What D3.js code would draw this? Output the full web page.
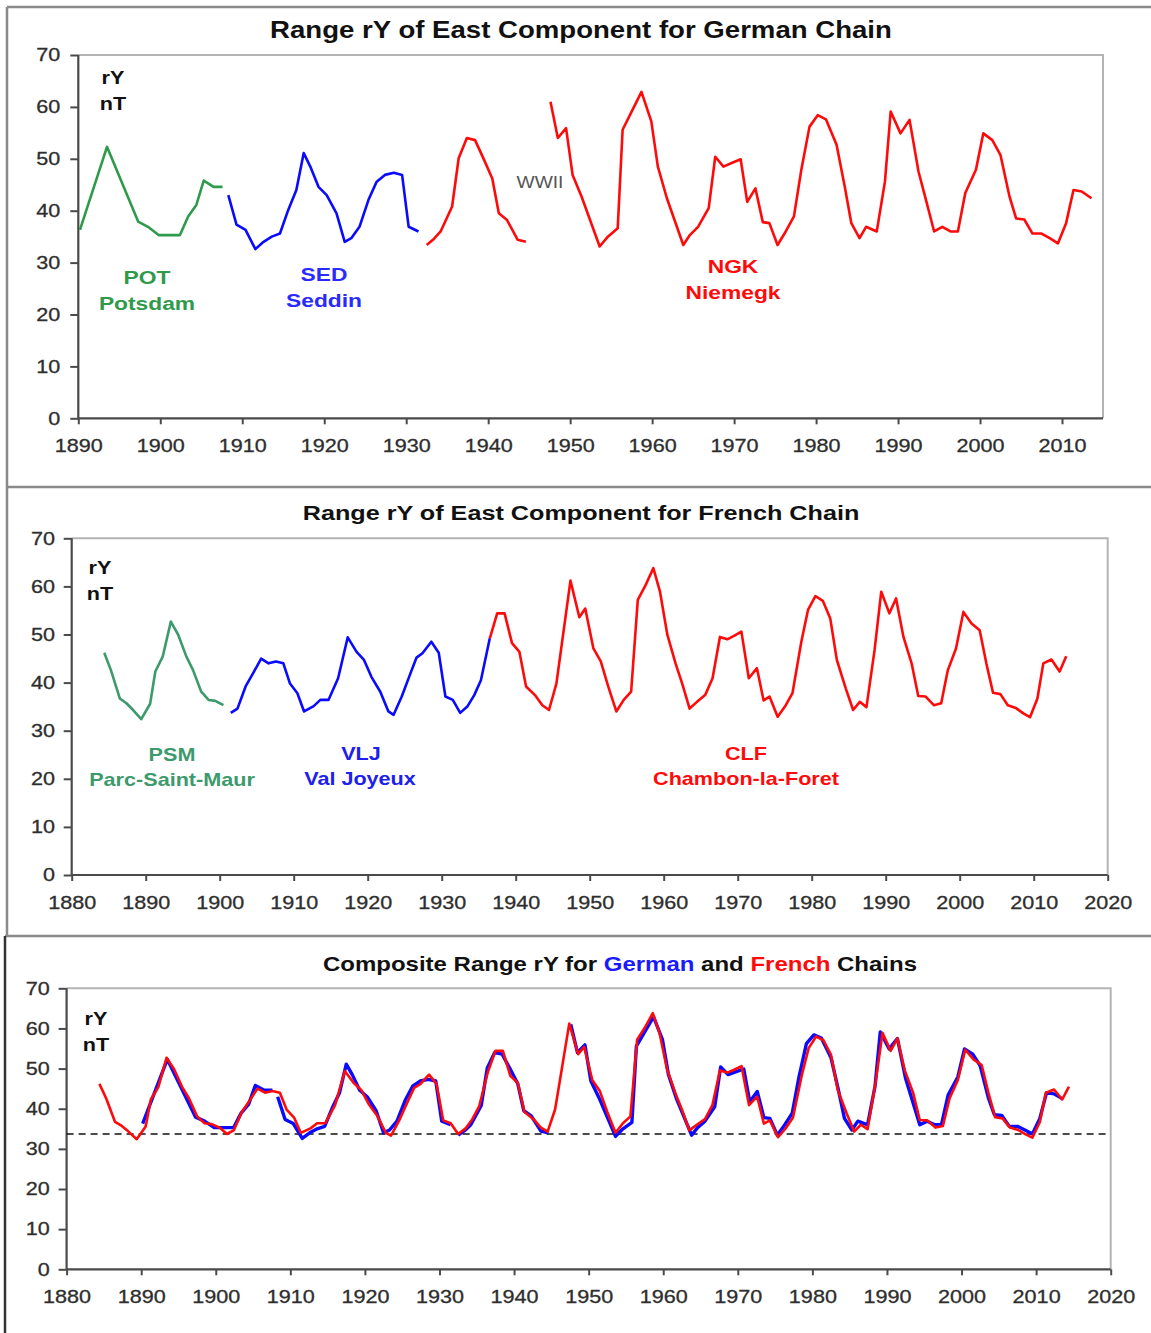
<!DOCTYPE html>
<html>
<head>
<meta charset="utf-8">
<script src="https://cdn.jsdelivr.net/npm/d3@7"></script>
<style>
  body { margin: 0; background: #fff; }
  svg { display: block; font-family: "Liberation Sans", Arial, sans-serif; }
</style>
</head>
<body>
<script>
// ---- data: [year, rY nT] ----
const POT = [[1890.2,36.3],[1893.5,52.3],[1897.3,37.9],[1898.5,36.9],[1899.8,35.3],[1902.4,35.3],[1903.4,38.9],
  [1904.4,41.1],[1905.3,45.8],[1906.5,44.6],[1907.6,44.6]];
const SED = [[1908.3,43.0],[1909.3,37.3],[1910.4,36.3],[1911.6,32.6],[1912.6,34.0],[1913.6,35.0],[1914.6,35.6],
  [1915.6,40.1],[1916.6,44.0],[1917.5,51.1],[1918.3,48.5],[1919.3,44.6],[1920.3,43.0],[1921.5,39.5],[1922.5,34.0],
  [1923.3,34.7],[1924.3,36.9],[1925.4,42.1],[1926.4,45.6],[1927.4,46.9],[1928.5,47.3],[1929.5,46.9],[1930.3,36.9],
  [1931.5,36.0]];
const NGK_PRE = [[1932.5,33.4],[1933.4,34.6],[1934.2,36.0],[1935.6,40.8],[1936.4,50.1],[1937.4,54.0],[1938.4,53.6],
  [1939.5,49.8],[1940.5,46.2],[1941.3,39.5],[1942.3,38.2],[1943.6,34.4],[1944.6,34.0]];
const NGK_POST = [[1947.6,61.0],[1948.5,54.0],[1949.5,55.9],[1950.3,46.9],[1951.4,42.7],[1953.6,33.1],[1954.6,35.0],
  [1955.8,36.6],[1956.4,55.6],[1957.5,59.1],[1958.7,62.9],[1959.9,57.2],[1960.7,48.5],[1961.8,42.4],[1963.8,33.4],
  [1964.6,35.3],[1965.6,36.9],[1966.9,40.5],[1967.7,50.4],[1968.7,48.5],[1969.7,49.2],[1970.8,49.9],[1971.6,41.7],
  [1972.6,44.3],[1973.5,37.8],[1974.3,37.6],[1975.3,33.4],[1976.3,36.0],[1977.3,38.9],[1978.2,47.9],[1979.2,56.2],
  [1980.2,58.4],[1981.2,57.6],[1982.5,52.7],[1983.5,44.6],[1984.3,37.6],[1985.3,34.7],[1986.1,36.9],[1987.4,36.0],
  [1988.4,45.6],[1989.1,59.1],[1990.3,54.9],[1991.4,57.5],[1992.5,47.5],[1993.3,42.7],[1994.4,36.0],[1995.4,36.9],
  [1996.4,36.0],[1997.3,36.0],[1998.2,43.4],[1999.5,47.9],[2000.4,54.9],[2001.5,53.6],[2002.5,50.7],[2003.6,42.7],
  [2004.4,38.5],[2005.4,38.3],[2006.4,35.6],[2007.5,35.6],[2008.5,34.7],[2009.5,33.7],[2010.5,37.6],[2011.4,44.0],
  [2012.4,43.7],[2013.6,42.4]];

const PSM = [[1884.4,46.2],[1885.3,42.6],[1886.5,36.7],[1887.4,35.7],[1888.3,34.3],[1889.4,32.4],[1890.6,35.6],
  [1891.3,42.3],[1892.3,45.4],[1893.4,52.7],[1894.4,49.9],[1895.5,45.4],[1896.4,42.6],[1897.5,38.1],[1898.5,36.4],
  [1899.4,36.2],[1900.5,35.3]];
const VLJ = [[1901.5,33.7],[1902.4,34.6],[1903.5,39.2],[1904.5,41.9],[1905.6,45.0],[1906.6,44.0],[1907.6,44.4],
  [1908.6,44.0],[1909.5,39.8],[1910.5,37.8],[1911.4,34.0],[1912.7,35.1],[1913.6,36.4],[1914.7,36.4],[1916.0,40.9],
  [1917.3,49.4],[1918.5,46.4],[1919.5,44.7],[1920.5,41.2],[1921.7,38.1],[1922.8,34.0],[1923.5,33.3],[1924.6,37.1],
  [1925.7,41.6],[1926.6,45.2],[1927.4,46.1],[1928.6,48.5],[1929.6,46.2],[1930.5,37.1],[1931.5,36.4],[1932.5,33.7],
  [1933.5,35.1],[1934.4,37.4],[1935.3,40.5],[1936.5,49.2]];
const CLF = [[1936.5,49.2],[1937.5,54.4],[1938.5,54.4],[1939.5,48.2],[1940.5,46.4],[1941.4,39.2],[1942.6,37.4],
  [1943.6,35.3],[1944.5,34.3],[1945.5,39.8],[1946.4,49.9],[1947.4,61.2],[1948.6,53.6],[1949.4,55.4],[1950.5,47.1],
  [1951.5,44.4],[1952.5,39.2],[1953.6,34.0],[1954.6,36.4],[1955.6,38.1],[1956.5,57.2],[1957.5,60.1],[1958.6,63.8],
  [1959.5,58.9],[1960.5,49.9],[1961.6,44.0],[1962.5,39.8],[1963.5,34.6],[1964.5,36.0],[1965.6,37.4],[1966.6,40.9],
  [1967.6,49.5],[1968.6,49.0],[1969.5,49.7],[1970.5,50.6],[1971.5,40.9],[1972.6,43.0],[1973.5,36.3],[1974.3,37.1],
  [1975.4,32.9],[1976.5,35.3],[1977.4,37.8],[1978.6,48.5],[1979.5,55.1],[1980.5,58.0],[1981.5,57.0],[1982.5,53.4],
  [1983.4,44.7],[1984.6,38.8],[1985.6,34.3],[1986.5,36.0],[1987.4,34.9],[1988.5,46.8],[1989.4,58.9],[1990.5,54.4],
  [1991.4,57.5],[1992.4,49.5],[1993.5,44.0],[1994.4,37.2],[1995.4,37.1],[1996.5,35.3],[1997.5,35.7],[1998.4,42.6],
  [1999.5,47.1],[2000.5,54.7],[2001.6,52.3],[2002.7,50.9],[2003.6,44.0],[2004.5,37.9],[2005.5,37.6],[2006.5,35.3],
  [2007.6,34.7],[2008.6,33.6],[2009.5,32.8],[2010.5,36.7],[2011.3,44.0],[2012.4,44.8],[2013.5,42.3],[2014.4,45.5]];

const baseLevel = 33.7; // dashed line, composite panel

const yTicks = [0, 10, 20, 30, 40, 50, 60, 70];
const xTicksGerman = [1890, 1900, 1910, 1920, 1930, 1940, 1950, 1960, 1970, 1980, 1990, 2000, 2010];
const xTicksFrench = [1880, 1890, 1900, 1910, 1920, 1930, 1940, 1950, 1960, 1970, 1980, 1990, 2000, 2010, 2020];

const GREEN = '#2f9a4c', GREEN2 = '#3c9a6c', BLUE = '#0a0aff', RED = '#ff0a0a';
const SX = 1.2; // the picture's text is stretched horizontally

const svg = d3.select('body').append('svg').attr('width', 1151).attr('height', 1333);

// panel frames
const frame = svg.append('g').attr('stroke', '#8a8a8a').attr('stroke-width', 2.5);
frame.append('line').attr('x1', 7).attr('x2', 1151).attr('y1', 7).attr('y2', 7);
frame.append('line').attr('x1', 7).attr('x2', 7).attr('y1', 7).attr('y2', 936);
frame.append('line').attr('x1', 7).attr('x2', 1151).attr('y1', 487).attr('y2', 487);
frame.append('line').attr('x1', 5).attr('x2', 1151).attr('y1', 936).attr('y2', 936);
frame.append('line').attr('x1', 5).attr('x2', 5).attr('y1', 936).attr('y2', 1333).attr('stroke', '#333');

function txt(g, x, y, s, opts = {}) {
    return g.append('text')
        .attr('transform', `translate(${x},${y}) scale(${SX},1)`)
        .attr('text-anchor', opts.anchor || 'middle')
        .style('font-size', (opts.size || 18) + 'px')
        .style('font-weight', opts.bold === false ? 'normal' : 'bold')
        .attr('fill', opts.color || '#111')
        .text(s);
}

function drawPanel(p) {
    const g = svg.append('g');
    const x = d3.scaleLinear().domain(p.xDomain).range([p.left, p.right]);
    const y = d3.scaleLinear().domain([0, 70]).range([p.bottom, p.top]);

    // light frame on top and right
    g.append('path')
        .attr('d', `M${p.left},${p.top}H${p.right}V${p.bottom}`)
        .attr('fill', 'none').attr('stroke', '#b4b4b4').attr('stroke-width', 2);

    const yAxis = g.append('g').attr('transform', `translate(${p.left},0)`)
        .call(d3.axisLeft(y).tickValues(yTicks).tickSize(8).tickPadding(p.yPad).tickSizeOuter(0));
    const xAxis = g.append('g').attr('transform', `translate(0,${p.bottom})`)
        .call(d3.axisBottom(x).tickValues(p.xTicks).tickFormat(d3.format('d')).tickSize(6).tickPadding(15).tickSizeOuter(0));
    [yAxis, xAxis].forEach(a => {
        a.select('.domain').attr('stroke', '#4a4a4a').attr('stroke-width', 2.2);
        a.selectAll('.tick line').attr('stroke', '#4a4a4a').attr('stroke-width', 2);
        a.selectAll('.tick text')
            .attr('transform', `scale(${SX},1)`)
            .style('font-size', '18px')
            .attr('fill', '#2e2e2e')
            .attr('stroke', '#2e2e2e').attr('stroke-width', 0.3);
    });
    yAxis.select('.domain').attr('d', `M0,${p.bottom}V${p.top}`);
    xAxis.select('.domain').attr('d', `M${p.left},0H${p.right}`);

    const line = d3.line().x(d => x(d[0])).y(d => y(d[1]));
    if (p.dashed !== undefined) {
        g.append('line')
            .attr('x1', p.left).attr('x2', p.right)
            .attr('y1', y(p.dashed)).attr('y2', y(p.dashed))
            .attr('stroke', '#111').attr('stroke-width', 1.6).attr('stroke-dasharray', '7,5');
    }
    p.series.forEach(s => {
        g.append('path').datum(s.data)
            .attr('d', line)
            .attr('fill', 'none')
            .attr('stroke', s.color)
            .attr('stroke-width', s.width || 2.6)
            .attr('stroke-linejoin', 'round');
    });

    txt(g, p.unitX, p.unitY, 'rY');
    txt(g, p.unitX, p.unitY + 26, 'nT');
    (p.labels || []).forEach(l => txt(g, l.x, l.y, l.text, l));
    return g;
}

// ---- German chain ----
const g1 = drawPanel({
    left: 78.3, right: 1103, top: 55, bottom: 418.3, xDomain: [1890, 2015], xTicks: xTicksGerman, yPad: 7,
    series: [
        { data: POT, color: GREEN }, { data: SED, color: BLUE },
        { data: NGK_PRE, color: RED }, { data: NGK_POST, color: RED }
    ],
    unitX: 113, unitY: 84,
    labels: [
        { x: 147, y: 284, text: 'POT', color: GREEN, size: 19 },
        { x: 147, y: 310, text: 'Potsdam', color: GREEN, size: 19 },
        { x: 324, y: 281, text: 'SED', color: '#2a2aff', size: 19 },
        { x: 324, y: 307, text: 'Seddin', color: '#2a2aff', size: 19 },
        { x: 733, y: 273, text: 'NGK', color: RED, size: 19 },
        { x: 733, y: 299, text: 'Niemegk', color: RED, size: 19 },
        { x: 540, y: 188, text: 'WWII', color: '#555', size: 16, bold: false }
    ]
});
txt(g1, 581, 38, 'Range rY of East Component for German Chain', { size: 23 });

// ---- French chain ----
const g2 = drawPanel({
    left: 71.7, right: 1107.7, top: 538.3, bottom: 875, xDomain: [1880, 2020], xTicks: xTicksFrench, yPad: 6,
    series: [
        { data: PSM, color: GREEN2 }, { data: VLJ, color: BLUE }, { data: CLF, color: RED }
    ],
    unitX: 100, unitY: 574,
    labels: [
        { x: 172, y: 761, text: 'PSM', color: GREEN2, size: 18 },
        { x: 172, y: 786, text: 'Parc-Saint-Maur', color: GREEN2, size: 18 },
        { x: 361, y: 760, text: 'VLJ', color: '#2020ee', size: 18 },
        { x: 360, y: 785, text: 'Val Joyeux', color: '#2020ee', size: 18 },
        { x: 746, y: 760, text: 'CLF', color: RED, size: 18 },
        { x: 746, y: 785, text: 'Chambon-la-Foret', color: RED, size: 18 }
    ]
});
txt(g2, 581, 520, 'Range rY of East Component for French Chain', { size: 21 });

// ---- composite ----
const g3 = drawPanel({
    left: 66.6, right: 1110.7, top: 988.3, bottom: 1269.3, xDomain: [1880, 2020], xTicks: xTicksFrench, yPad: 6,
    dashed: baseLevel,
    series: [
        { data: POT, color: BLUE, width: 3.4 }, { data: SED, color: BLUE, width: 3.4 },
        { data: NGK_PRE, color: BLUE, width: 3.4 }, { data: NGK_POST, color: BLUE, width: 3.4 },
        { data: PSM.concat(VLJ, CLF), color: RED, width: 2.6 }
    ],
    unitX: 96, unitY: 1025
});
const t3 = txt(g3, 620, 971, '', { size: 20 });
[['Composite Range rY for ', '#111'], ['German', '#1a1aff'], [' and ', '#111'], ['French', RED], [' Chains', '#111']]
    .forEach(([s, c]) => t3.append('tspan').attr('fill', c).text(s));
</script>
</body>
</html>
